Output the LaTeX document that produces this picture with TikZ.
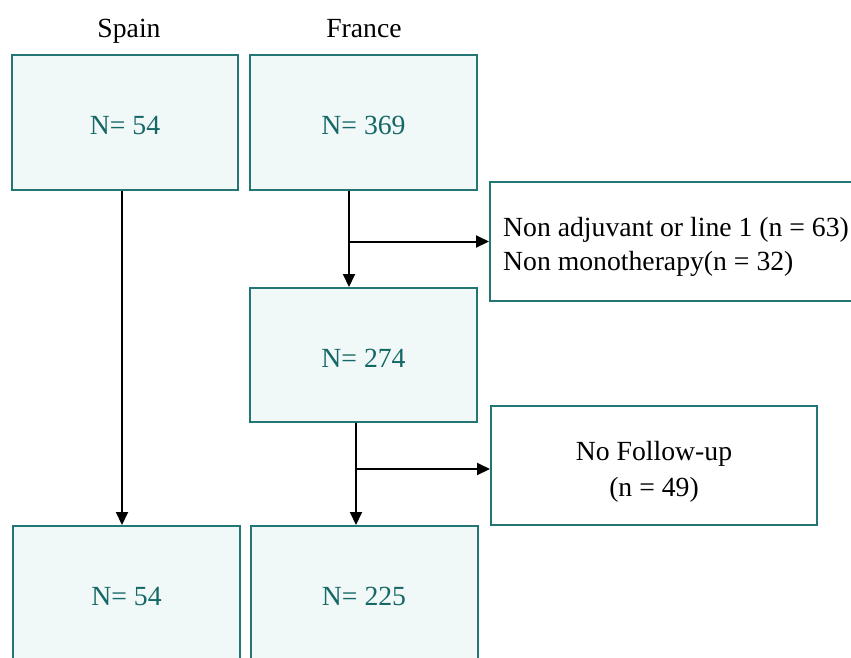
\documentclass[tikz,border=0pt]{standalone}
\usepackage{fontspec}
\setmainfont{Liberation Serif}
\usetikzlibrary{arrows.meta}
\definecolor{boxline}{RGB}{36,118,116}
\definecolor{boxtext}{RGB}{22,104,102}
\definecolor{boxfill}{RGB}{240,248,248}
\begin{document}
\begin{tikzpicture}[x=1pt,y=-1pt,
  every node/.style={font=\fontsize{27.7}{34}\selectfont},
  nbox/.style={draw=boxline,line width=2pt,fill=boxfill,text=boxtext,minimum width=227pt,minimum height=135pt,inner sep=0pt,text height=24.4pt,text depth=0pt},
  sbox/.style={draw=boxline,line width=2pt,fill=white,inner sep=0pt},
  arr/.style={line width=2pt,-{Triangle[length=13pt,width=12pt]}}]
\clip (0,0) rectangle (851,657);
\fill[white] (0,0) rectangle (851,657);
\node[anchor=base] (sp) at (129,37.5) {Spain};
\node[anchor=base] (fr) at (364,37.5) {France};
\node[nbox,minimum width=226pt] (A) at (125,122.5) {N= 54};
\node[nbox] (B) at (363.5,122.5) {N= 369};
\node[sbox,minimum width=372pt,minimum height=119pt] (C) at (676,241.5) {};
\node[align=left,inner sep=0pt] (Ct) at (676,246.5) {Non adjuvant or line 1 (n = 63)\\Non monotherapy(n = 32)};
\node[nbox,minimum height=134pt] (D) at (363.5,355) {N= 274};
\node[sbox,minimum width=326pt,minimum height=119pt] (E) at (654,465.5) {};
\node[align=center,inner sep=0pt,font=\fontsize{27.7}{36}\selectfont] (Et) at (654,471.5) {No Follow-up\\(n = 49)};
\node[nbox,minimum height=134pt] (F) at (126.5,593) {N= 54};
\node[nbox,minimum height=134pt] (G) at (364,593) {N= 225};
\draw[arr] ([xshift=-3pt]A.south) -- ([xshift=-3pt]A.south |- F.north);
\draw[arr] ([xshift=-14.5pt]B.south) -- ([xshift=-14.5pt]B.south |- D.north);
\draw[arr] ([xshift=-14.5pt]B.south |- C.west) -- (C.west);
\draw[arr] ([xshift=-7.5pt]D.south) -- ([xshift=-7.5pt]D.south |- G.north);
\draw[arr] ([xshift=-7.5pt,yshift=-3.5pt]D.south |- E.west) -- ([yshift=-3.5pt]E.west);
\end{tikzpicture}
\end{document}
